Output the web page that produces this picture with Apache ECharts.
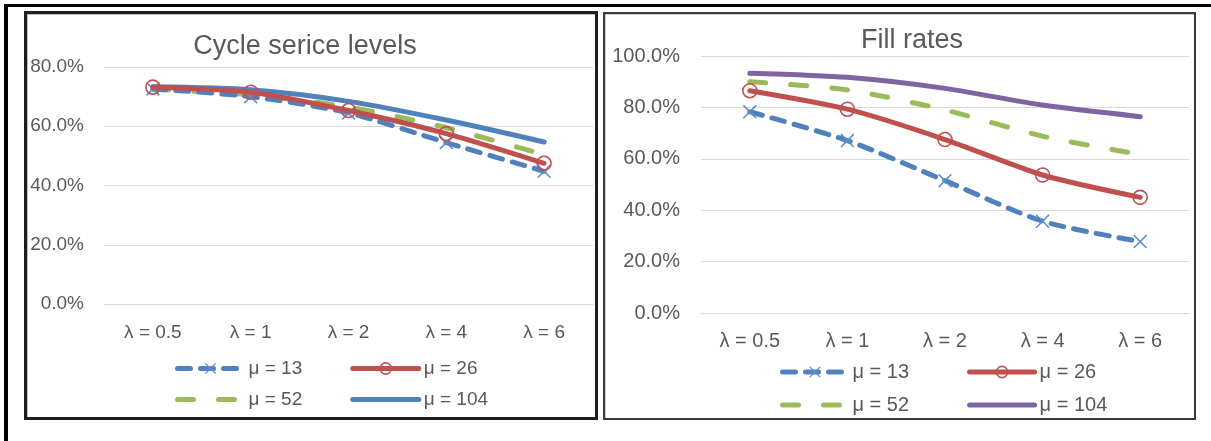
<!DOCTYPE html>
<html>
<head>
<meta charset="utf-8">
<script src="https://cdn.jsdelivr.net/npm/echarts@6/dist/echarts.min.js"></script>
<style>
  html, body { margin: 0; padding: 0; background: #fff; }
  body { position: relative; width: 1211px; height: 441px; overflow: hidden; }
  .bar-top { position: absolute; left: 4px; top: 4px; width: 1207px; height: 3px; background: #000; }
  .bar-left { position: absolute; left: 4px; top: 4px; width: 4px; height: 437px; background: #000; }
  .frame-l { position: absolute; left: 24px; top: 11px; width: 568px; height: 403px; border: 3px solid #1e1e1e; box-shadow: inset 1px 1px 0 #bbb; }
  .frame-r { position: absolute; left: 603px; top: 12px; width: 589px; height: 404px; border: 2px solid #3a3a3a; box-shadow: inset 1px 1px 0 #ccc; }
  .chart { position: absolute; top: 0; height: 441px; }
  #left { left: 0; width: 600px; }
  #right { left: 600px; width: 611px; }
</style>
</head>
<body>
<div class="bar-top"></div>
<div class="bar-left"></div>
<div class="frame-l"></div>
<div class="frame-r"></div>
<div id="left" class="chart"></div>
<div id="right" class="chart"></div>
<script>
// Categories shared by both panels
const categories = ['λ = 0.5', 'λ = 1', 'λ = 2', 'λ = 4', 'λ = 6'];
const seriesNames = ['μ = 13', 'μ = 26', 'μ = 52', 'μ = 104'];

// Cycle service levels (%)
const cycleMu13  = [72.6, 70.0, 64.5, 54.5, 44.8];
const cycleMu26  = [73.2, 71.5, 65.3, 57.5, 47.5];
const cycleMu52  = [72.5, 70.6, 66.5, 59.5, 50.4];
const cycleMu104 = [73.3, 72.3, 68.4, 62.1, 54.7];

// Fill rates (%)
const fillMu13  = [78.3, 67.1, 51.5, 35.7, 27.8];
const fillMu26  = [86.5, 79.3, 67.5, 53.7, 45.0];
const fillMu52  = [90.0, 86.8, 79.0, 68.8, 61.7];
const fillMu104 = [93.3, 91.7, 87.4, 80.9, 76.4];

// Axis ticks
const cycleTicks = { min: 0, max: 80, interval: 20 };
const fillTicks = { min: 0, max: 100, interval: 20 };

const FONT = '"Liberation Sans", Arial, sans-serif';
const TEXT = '#595959';
const BLUE = '#4F81BD', RED = '#C0504D', GREEN = '#9BBB59', PURPLE = '#8064A2';
const CROSS = 'path://M0,0.8L0.8,0L5,4.2L9.2,0L10,0.8L5.8,5L10,9.2L9.2,10L5,5.8L0.8,10L0,9.2L4.2,5Z';
const LW = 5;
const DASH = [13, 10];
const LONG_DASH = [16, 25];

const styles = {
  mu13: { line: { color: BLUE, width: LW, type: DASH, cap: 'round' }, item: { color: '#5B8FD0' } },
  mu26: { line: { color: RED, width: LW, cap: 'round' },
          item: { color: 'rgba(255,255,255,0)', borderColor: RED, borderWidth: 1.6 } },
  mu52: { line: { color: GREEN, width: LW, type: LONG_DASH, cap: 'round' } }
};

function makeSeries(values, lastColor) {
  return [
    {
      name: seriesNames[0], type: 'line', data: values[0], smooth: 0.25, color: BLUE,
      lineStyle: styles.mu13.line, symbol: CROSS, symbolSize: 14, showAllSymbol: true,
      itemStyle: styles.mu13.item, z: 3
    },
    {
      name: seriesNames[1], type: 'line', data: values[1], smooth: 0.25, color: RED,
      lineStyle: styles.mu26.line, symbol: 'circle', symbolSize: 14, showAllSymbol: true,
      itemStyle: styles.mu26.item, z: 4
    },
    {
      name: seriesNames[2], type: 'line', data: values[2], smooth: 0.25, color: GREEN,
      lineStyle: styles.mu52.line, symbol: 'none', z: 2
    },
    {
      name: seriesNames[3], type: 'line', data: values[3], smooth: 0.25, color: lastColor,
      lineStyle: { color: lastColor, width: LW, cap: 'round' }, symbol: 'none', z: 1
    }
  ];
}

function legendItems(lastColor) {
  return [
    { name: seriesNames[0], lineStyle: styles.mu13.line, itemStyle: styles.mu13.item },
    { name: seriesNames[1], lineStyle: styles.mu26.line, itemStyle: styles.mu26.item },
    { name: seriesNames[2], lineStyle: styles.mu52.line, itemStyle: { opacity: 0 } },
    { name: seriesNames[3], lineStyle: { color: lastColor, width: LW, cap: 'round' }, itemStyle: { opacity: 0 } }
  ];
}

function buildOption(p) {
  const items = legendItems(p.lastColor);
  const legendBase = {
    left: p.legendLeft, padding: 0, itemWidth: p.iconW, itemHeight: 14, itemGap: p.legendGap,
    textStyle: { color: TEXT, fontSize: p.font, fontFamily: FONT }, selectedMode: false
  };
  return {
    animation: false,
    backgroundColor: 'transparent',
    title: {
      text: p.title, left: p.titleX, top: p.titleY, textAlign: 'center',
      textStyle: { color: TEXT, fontSize: 27, fontWeight: 'normal', fontFamily: FONT }
    },
    legend: [
      Object.assign({}, legendBase, { top: p.row1, data: [items[0], items[1]] }),
      Object.assign({}, legendBase, { top: p.row2, data: [items[2], items[3]] })
    ],
    grid: { left: p.grid.left, top: p.grid.top, width: p.grid.width, height: p.grid.height, containLabel: false },
    xAxis: {
      type: 'category', data: categories, boundaryGap: true,
      axisLine: { show: true, lineStyle: { color: '#D9D9D9', width: 1 } },
      axisTick: { show: false },
      axisLabel: { color: TEXT, fontSize: p.font, fontFamily: FONT, margin: p.xMargin }
    },
    yAxis: {
      type: 'value', min: p.ticks.min, max: p.ticks.max, interval: p.ticks.interval,
      axisLine: { show: false }, axisTick: { show: false },
      splitLine: { lineStyle: { color: '#D9D9D9', width: 1 } },
      axisLabel: { color: TEXT, fontSize: p.font, fontFamily: FONT, margin: p.yMargin,
        formatter: v => v.toFixed(1) + '%' }
    },
    series: makeSeries(p.values, p.lastColor)
  };
}

const leftChart = echarts.init(document.getElementById('left'), null, { renderer: 'canvas' });
leftChart.setOption(buildOption({
  title: 'Cycle serice levels', titleX: 300, titleY: 28,
  grid: { left: 104, top: 67, width: 489, height: 237 },
  ticks: cycleTicks, font: 19, xMargin: 19, yMargin: 20,
  legendLeft: 175, row1: 359, row2: 390, iconW: 66, legendGap: 48,
  values: [cycleMu13, cycleMu26, cycleMu52, cycleMu104], lastColor: BLUE
}));

const rightChart = echarts.init(document.getElementById('right'), null, { renderer: 'canvas' });
rightChart.setOption(buildOption({
  title: 'Fill rates', titleX: 307, titleY: 22,
  grid: { left: 101, top: 56, width: 488, height: 257 },
  ticks: fillTicks, font: 20, xMargin: 18, yMargin: 21,
  legendLeft: 180, row1: 362, row2: 395, iconW: 65, legendGap: 58,
  values: [fillMu13, fillMu26, fillMu52, fillMu104], lastColor: PURPLE
}));
</script>
</body>
</html>
